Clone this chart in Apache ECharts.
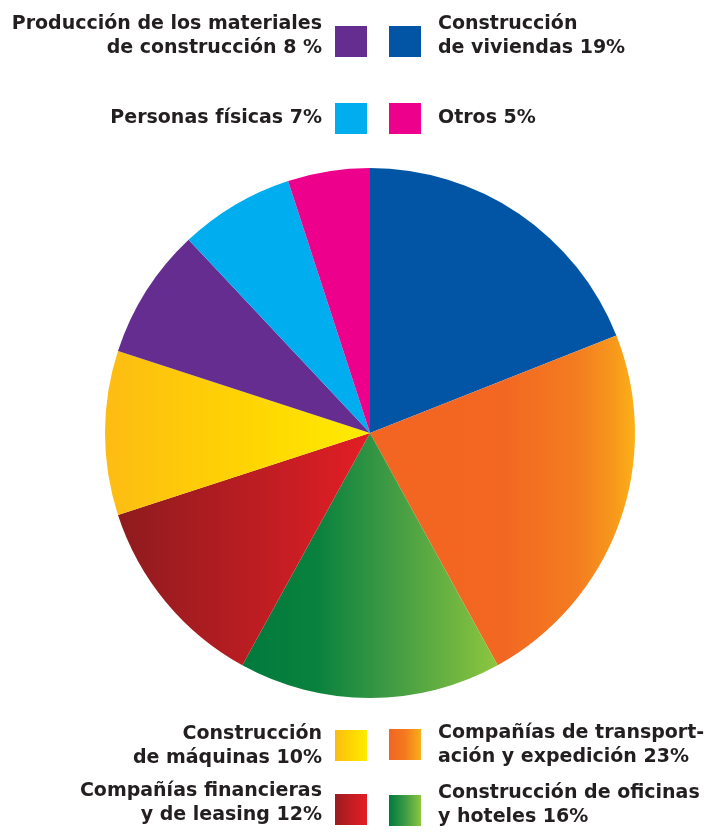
<!DOCTYPE html>
<html>
<head>
<meta charset="utf-8">
<script src="https://cdn.jsdelivr.net/npm/echarts@6/dist/echarts.min.js"></script>
<style>
html,body{margin:0;padding:0;background:#fff;}
#chart{width:721px;height:832px;}
</style>
</head>
<body>
<div id="chart"></div>
<script>
// ---- data ----
var categories = [
  'Construcción de viviendas',
  'Compañías de transportación y expedición',
  'Construcción de oficinas y hoteles',
  'Compañías financieras y de leasing',
  'Construcción de máquinas',
  'Producción de los materiales de construcción',
  'Personas físicas',
  'Otros'
];
var values = [19, 23, 16, 12, 10, 8, 7, 5];
var legendLabels = [
  'Construcción\nde viviendas 19%',
  'Compañías de transport-\nación y expedición 23%',
  'Construcción de oficinas\ny hoteles 16%',
  'Compañías financieras\ny de leasing 12%',
  'Construcción\nde máquinas 10%',
  'Producción de los materiales\nde construcción 8 %',
  'Personas físicas 7%',
  'Otros 5%'
];
// colour stops [offset, colour] (left -> right) for each slice
var sliceColors = [
  [[0, '#0254A5'], [1, '#0254A5']],
  [[0, '#F26522'], [0.5, '#F26722'], [0.78, '#F47C20'], [0.92, '#F7981C'], [1, '#FBB117']],
  [[0, '#007A3D'], [0.3, '#0A823E'], [0.55, '#3A9844'], [1, '#8DC63F']],
  [[0, '#8E1B1E'], [0.5, '#B81D22'], [1, '#E31E25']],
  [[0, '#FDBC13'], [0.55, '#FED502'], [1, '#FFEC00']],
  [[0, '#652D90'], [1, '#652D90']],
  [[0, '#00AEEF'], [1, '#00AEEF']],
  [[0, '#EC008C'], [1, '#EC008C']]
];
var legendColors = [
  [[0, '#0254A5'], [1, '#0254A5']],
  [[0, '#F26522'], [0.5, '#F4791F'], [1, '#FBAE18']],
  [[0, '#007A3D'], [0.5, '#3D9A45'], [1, '#8DC63F']],
  [[0, '#9B1B1F'], [0.5, '#C21D23'], [1, '#E31E25']],
  [[0, '#FDBC13'], [0.5, '#FED502'], [1, '#FFEC00']],
  [[0, '#652D90'], [1, '#652D90']],
  [[0, '#00AEEF'], [1, '#00AEEF']],
  [[0, '#EC008C'], [1, '#EC008C']]
];

// ---- helpers ----
function grad(stops) {
  if (stops.length === 2 && stops[0][1] === stops[1][1]) return stops[0][1];
  var cs = stops.map(function (s) { return { offset: s[0], color: s[1] }; });
  return { type: 'linear', x: 0, y: 0, x2: 1, y2: 0, colorStops: cs };
}

// legend layout: [side, squareTop, textCenterY]
var legendLayout = [
  ['right', 26, 36],   // viviendas
  ['right', 729, 745], // transport
  ['right', 795, 805], // oficinas
  ['left', 794, 803],  // financieras
  ['left', 730, 746],  // máquinas
  ['left', 26, 36],    // producción
  ['left', 103, 118],  // personas
  ['right', 103, 118]  // otros
];

var font = 'bold 19px "DejaVu Sans", Verdana, sans-serif';
var graphics = [];
legendLabels.forEach(function (lbl, i) {
  var L = legendLayout[i];
  var left = L[0] === 'left';
  graphics.push({
    type: 'rect',
    shape: { x: left ? 335 : 389, y: L[1], width: 32, height: 31 },
    style: { fill: grad(legendColors[i]) },
    silent: true
  });
  graphics.push({
    type: 'text',
    x: left ? 322 : 438,
    y: L[2],
    style: {
      text: lbl,
      font: font,
      fill: '#231F20',
      align: left ? 'right' : 'left',
      verticalAlign: 'middle',
      lineHeight: 24
    },
    silent: true
  });
});

var chart = echarts.init(document.getElementById('chart'));
chart.setOption({
  animation: false,
  backgroundColor: '#fff',
  graphic: graphics,
  series: [{
    type: 'pie',
    center: [370, 433],
    radius: [0, 265],
    startAngle: 90,
    clockwise: true,
    silent: true,
    label: { show: false },
    labelLine: { show: false },
    itemStyle: { borderWidth: 0 },
    data: categories.map(function (c, i) {
      return { name: c, value: values[i], itemStyle: { color: grad(sliceColors[i]) } };
    })
  }]
});
</script>
</body>
</html>
